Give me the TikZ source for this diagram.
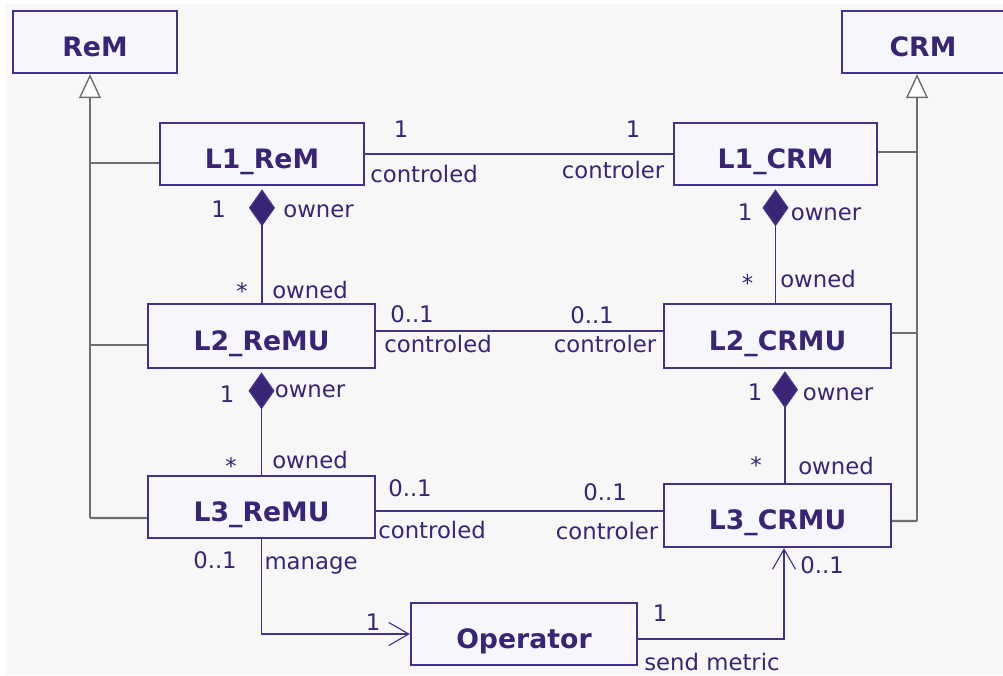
\documentclass[tikz,border=0pt]{standalone}
\usepackage{fontspec}
\setmainfont{DejaVu Sans}
\usepackage{xcolor}
\usepackage{tikz}
\usetikzlibrary{arrows.meta}
\definecolor{umlline}{HTML}{45308A}
\definecolor{umlink}{HTML}{3A2476}
\definecolor{umlfill}{HTML}{F6F7FD}
\definecolor{canvas}{HTML}{F7F7F7}
\definecolor{isagray}{HTML}{6E6E6E}

\begin{document}
\begin{tikzpicture}[x=0.25mm,y=-0.25mm,
  classbox/.style={draw=umlline,fill=umlfill,line width=1.6pt,inner sep=0pt,minimum height=15.5mm,text height=7mm,text depth=0pt,font=\fontsize{19}{23}\selectfont\bfseries,text=umlink},
  role/.style={anchor=base,inner sep=0pt,font=\fontsize{16.2}{19}\selectfont,text=umlink},
  assoc/.style={draw=umlline,line width=1.4pt},
  owns/.style={assoc,{Diamond[length=9.25mm,width=6.5mm,fill=umlink,line width=1pt]}-,shorten <=0.8mm},
  navig/.style={assoc,-{Straight Barb[length=5mm,width=5.75mm,line width=0.8pt]}},
  isaline/.style={draw=isagray,line width=1.6pt},
  isa/.style={isaline,-{Triangle[length=6mm,width=5.5mm,fill=white,line width=1pt]}}
]
\useasboundingbox (0,0) rectangle (1003,675);
\fill[white] (0,0) rectangle (1003,675);
\fill[canvas] (6,4) rectangle (1003,675);

\node[classbox,minimum width=41mm] (rem) at (95,42) {ReM};
\node[classbox,minimum width=40.5mm] (crm) at (923,42) {CRM};
\node[classbox,minimum width=51mm] (l1rem) at (262,154) {L1\_ReM};
\node[classbox,minimum width=50.75mm] (l1crm) at (775.5,154) {L1\_CRM};
\node[classbox,minimum width=56.75mm,minimum height=16mm] (l2remu) at (261.5,336) {L2\_ReMU};
\node[classbox,minimum width=56.75mm,minimum height=16mm] (l2crmu) at (777.5,336) {L2\_CRMU};
\node[classbox,minimum width=56.75mm] (l3remu) at (261.5,507) {L3\_ReMU};
\node[classbox,minimum width=56.75mm,minimum height=15.75mm] (l3crmu) at (777.5,515.5) {L3\_CRMU};
\node[classbox,minimum width=56.5mm] (operator) at (524,634) {Operator};

\coordinate (remfoot) at (90,518);
\coordinate (crmfoot) at (917,521);
\coordinate (crmujoint) at (785,368);

\draw[isaline] ([yshift=-2.25mm]l1rem.west) -| (remfoot);
\draw[isaline] ([yshift=-2.25mm]l2remu.west) -| (remfoot);
\draw[isaline] ([yshift=-2.75mm]l3remu.west) -- (remfoot);
\draw[isa] (remfoot) -- (remfoot |- rem.south);
\draw[isaline] ([yshift=0.5mm]l1crm.east) -| (crmfoot);
\draw[isaline] ([yshift=0.75mm]l2crmu.east) -| (crmfoot);
\draw[isaline] ([yshift=-1.4mm]l3crmu.east) -- (crmfoot);
\draw[isa] (crmfoot) -- (crmfoot |- crm.south);

\draw[assoc] (l1rem) -- (l1crm);
\draw[assoc] ([yshift=1.25mm]l2remu.east) -- ([yshift=1.25mm]l2crmu.west);
\draw[assoc] ([yshift=-1mm]l3remu.east) -- ([yshift=1.125mm]l3crmu.west);

\draw[owns] (l1rem.south) -- (l1rem.south |- l2remu.north);
\draw[owns] (l1crm.south) -- (l1crm.south |- l2crmu.north);
\draw[owns] (l2remu.south) -- (l3remu.north);
\draw[owns] (crmujoint) -- (crmujoint |- l3crmu.north);

\draw[navig] (l3remu.south) |- (operator.west);
\draw[navig] ([yshift=-1.25mm]operator.east) -| ([xshift=1.625mm]l3crmu.south);

\node[role] (l1multl) at (401,137) {1};
\node[role] (l1rolel) at (424,182) {controled};
\node[role] (l1multr) at (633,137) {1};
\node[role] (l1roler) at (613,178) {controler};
\node[role] (c1multa) at (218.5,217) {1};
\node[role] (c1rolea) at (318.5,217) {owner};
\node[role] (c1multb) at (242,299) {*};
\node[role] (c1roleb) at (310,298) {owned};
\node[role] (c2multa) at (745,220) {1};
\node[role] (c2rolea) at (826,220) {owner};
\node[role] (c2multb) at (747.5,291) {*};
\node[role] (c2roleb) at (818,287) {owned};
\node[role] (l2multl) at (412,322) {0..1};
\node[role] (l2rolel) at (438,352) {controled};
\node[role] (l2multr) at (592,323) {0..1};
\node[role] (l2roler) at (605,352) {controler};
\node[role] (c3multa) at (227,402) {1};
\node[role] (c3rolea) at (310,397) {owner};
\node[role] (c3multb) at (231,474) {*};
\node[role] (c3roleb) at (310,468) {owned};
\node[role] (c4multa) at (755,400) {1};
\node[role] (c4rolea) at (838,400) {owner};
\node[role] (c4multb) at (756,473.5) {*};
\node[role] (c4roleb) at (836,474) {owned};
\node[role] (l3multl) at (410,496) {0..1};
\node[role] (l3rolel) at (432,538) {controled};
\node[role] (l3multr) at (605,500) {0..1};
\node[role] (l3roler) at (607,539) {controler};
\node[role] (mgmult) at (215,568) {0..1};
\node[role] (mgrole) at (311,569) {manage};
\node[role] (opmult) at (373,630) {1};
\node[role] (smmult) at (660,621) {1};
\node[role] (smrole) at (712,670) {send metric};
\node[role] (smmultb) at (822,573) {0..1};
\end{tikzpicture}
\end{document}
